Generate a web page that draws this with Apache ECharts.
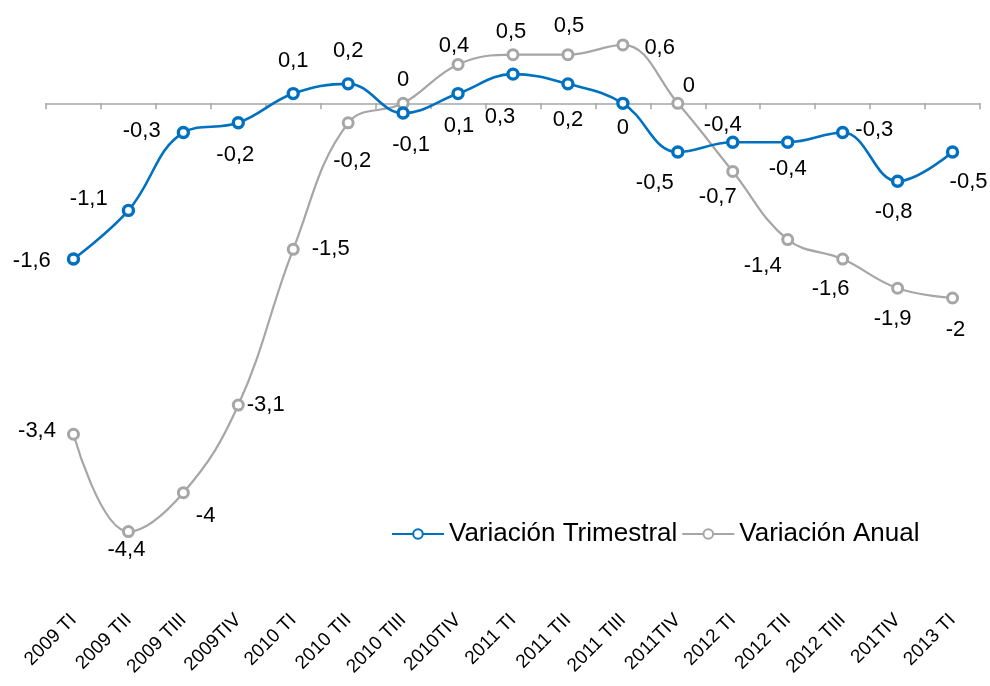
<!DOCTYPE html>
<html>
<head>
<meta charset="utf-8">
<style>
  html, body { margin: 0; padding: 0; background: #fff; }
  #chart { width: 990px; height: 686px; }
</style>
<script src="https://cdn.jsdelivr.net/npm/echarts@6/dist/echarts.min.js"></script>
</head>
<body>
<div id="chart"></div>
<script>
// categorías (trimestres)
var categories = [
  "2009 TI", "2009 TII", "2009 TIII", "2009TIV",
  "2010 TI", "2010 TII", "2010 TIII", "2010TIV",
  "2011 TI", "2011 TII", "2011 TIII", "2011TIV",
  "2012 TI", "2012 TII", "2012 TIII", "201TIV",
  "2013 TI"
];
var variacionTrimestral = [-1.6, -1.1, -0.3, -0.2, 0.1, 0.2, -0.1, 0.1, 0.3, 0.2, 0, -0.5, -0.4, -0.4, -0.3, -0.8, -0.5];
var variacionAnual = [-3.4, -4.4, -4, -3.1, -1.5, -0.2, 0, 0.4, 0.5, 0.5, 0.6, 0, -0.7, -1.4, -1.6, -1.9, -2];

// ubicación de las etiquetas de cada punto
var posTrim = ["left", "left", "left", "bottom", "top", "top", "bottom", "bottom", "bottom", "bottom", "bottom", "bottom", "top", "bottom", "right", "bottom", "bottom"];
var offTrim = [[-8, 2], [-6, -11], [-8, -2], [-3, 6], [0, -7], [0, -7], [8, 6], [1, 7], [-13, 17], [0, 10], [0, -1], [-23, 5], [-10, 8], [0, 1], [-2, -3], [-4, 5], [16, 4]];
var posAnual = ["left", "bottom", "right", "right", "right", "bottom", "top", "top", "top", "top", "right", "top", "bottom", "bottom", "bottom", "bottom", "bottom"];
var offAnual = [[-3, -3], [-2, -7], [-2, 23], [-6, 0], [4, 0], [4, 13], [0, 2], [-4, 7], [-2, 3], [1, -3], [7, 3], [11, 8], [-15, 0], [-25, 1], [-12, 4], [-5, 5], [3, 6]];

function fmt(v) {
  return String(v).replace(".", ",");
}

function buildData(values, pos, off) {
  return values.map(function (v, i) {
    return { value: v, label: { position: pos[i], offset: off[i] } };
  });
}

var myChart = echarts.init(document.getElementById("chart"));

var font = "Liberation Sans, Arial, sans-serif";

var option = {
  animation: false,
  textStyle: { fontFamily: font },
  grid: { left: 46, right: 10, top: 6, bottom: 96 },
  legend: {
    left: 386,
    top: 516,
    itemWidth: 52,
    itemHeight: 12,
    itemGap: 4,
    textStyle: { fontSize: 26, color: "#000", fontFamily: font },
    data: ["Variación Trimestral", "Variación Anual"]
  },
  xAxis: [
    {
      type: "category",
      data: categories,
      boundaryGap: true,
      position: "bottom",
      axisLine: { show: false, onZero: false },
      axisTick: { show: false },
      axisLabel: {
        interval: 0,
        rotate: 45,
        margin: 27,
        fontSize: 19,
        color: "#000"
      }
    },
    {
      type: "category",
      data: categories,
      boundaryGap: true,
      position: "bottom",
      axisLine: { show: true, onZero: true, lineStyle: { color: "#a6a6a6", width: 1.5 } },
      axisTick: { show: true, interval: 0, length: 6, lineStyle: { color: "#a6a6a6", width: 1.5 } },
      axisLabel: { show: false }
    }
  ],
  yAxis: {
    type: "value",
    min: -5,
    max: 1,
    show: false,
    splitLine: { show: false }
  },
  series: [
    {
      name: "Variación Anual",
      type: "line",
      smooth: 0.4,
      data: buildData(variacionAnual, posAnual, offAnual),
      symbol: "circle",
      symbolSize: 10,
      lineStyle: { color: "#a6a6a6", width: 2.2 },
      itemStyle: { color: "#fff", borderColor: "#a6a6a6", borderWidth: 3 },
      label: {
        show: true,
        fontSize: 22,
        color: "#000",
        distance: 8,
        formatter: function (p) { return fmt(p.value); }
      }
    },
    {
      name: "Variación Trimestral",
      type: "line",
      smooth: 0.4,
      data: buildData(variacionTrimestral, posTrim, offTrim),
      symbol: "circle",
      symbolSize: 10,
      lineStyle: { color: "#0070c0", width: 2.6 },
      itemStyle: { color: "#fff", borderColor: "#0070c0", borderWidth: 3.4 },
      label: {
        show: true,
        fontSize: 22,
        color: "#000",
        distance: 8,
        formatter: function (p) { return fmt(p.value); }
      }
    }
  ]
};

myChart.setOption(option);
</script>
</body>
</html>
